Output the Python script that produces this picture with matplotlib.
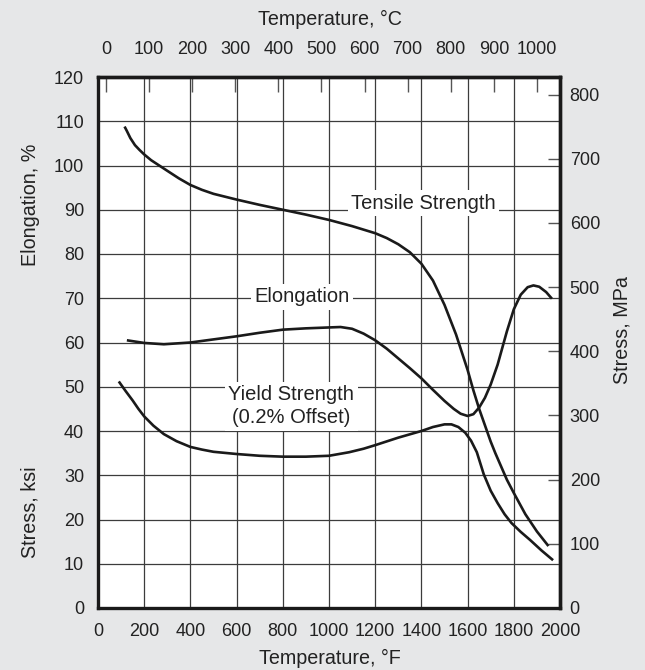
import matplotlib
matplotlib.use("Agg")
import matplotlib.pyplot as plt

plt.rcParams['font.family'] = ['Liberation Sans', 'DejaVu Sans']

# ---- data ----
tensile_F = [115, 125, 140, 160, 180, 200, 230, 265, 300, 350, 400, 450, 500, 600, 700, 800,
             900, 1000, 1100, 1200, 1250, 1300, 1350, 1400, 1450, 1500, 1550, 1575, 1600,
             1625, 1650, 1675, 1700, 1720, 1770, 1800, 1850, 1900, 1950]
tensile_ksi = [108.8, 107.8, 106.2, 104.6, 103.5, 102.5, 101.2, 100.0, 98.8, 97.1, 95.6, 94.5,
               93.6, 92.3, 91.1, 90.0, 88.9, 87.7, 86.3, 84.7, 83.6, 82.2, 80.4, 77.8, 74.0,
               68.5, 61.8, 57.8, 53.8, 49.2, 45.0, 41.3, 37.6, 35.0, 29.0, 26.0, 21.2, 17.3, 14.0]

elong_F = [125, 200, 285, 400, 500, 600, 700, 800, 900, 1000, 1050, 1100, 1150, 1200, 1250,
           1300, 1350, 1400, 1450, 1500, 1540, 1570, 1600, 1625, 1650, 1675, 1700, 1730, 1770,
           1800, 1830, 1860, 1885, 1910, 1940, 1965]
elong_pct = [60.5, 59.9, 59.6, 60.0, 60.7, 61.4, 62.2, 62.9, 63.2, 63.4, 63.5, 63.1, 62.0,
             60.5, 58.6, 56.4, 54.2, 51.9, 49.3, 46.8, 45.0, 43.9, 43.4, 43.8, 45.3, 47.5,
             50.5, 55.0, 62.5, 67.5, 70.8, 72.5, 72.9, 72.6, 71.4, 69.9]

yield_F = [90, 120, 150, 175, 200, 240, 285, 340, 400, 450, 500, 600, 700, 800, 900, 1000,
           1087, 1150, 1200, 1300, 1400, 1450, 1500, 1530, 1560, 1590, 1615, 1640, 1670, 1700,
           1730, 1760, 1790, 1830, 1870, 1920, 1970]
yield_ksi = [51.2, 49.0, 46.9, 45.0, 43.3, 41.2, 39.3, 37.7, 36.4, 35.8, 35.3, 34.8, 34.4, 34.2,
             34.2, 34.4, 35.2, 36.0, 36.8, 38.5, 40.0, 40.9, 41.5, 41.5, 40.9, 39.6, 37.8, 35.2,
             30.2, 26.5, 23.7, 21.2, 19.2, 17.2, 15.4, 13.0, 10.8]

x_ticks_F = [0, 200, 400, 600, 800, 1000, 1200, 1400, 1600, 1800, 2000]
y_ticks = [0, 10, 20, 30, 40, 50, 60, 70, 80, 90, 100, 110, 120]
mpa_ticks = [0, 100, 200, 300, 400, 500, 600, 700, 800]
c_ticks = [0, 100, 200, 300, 400, 500, 600, 700, 800, 900, 1000]

labels = ["Tensile Strength", "Elongation", "Yield Strength\n(0.2% Offset)"]

# ---- figure ----
BG = '#e6e7e8'
fig = plt.figure(figsize=(6.45, 6.7), dpi=100, facecolor=BG)
ax = fig.add_axes([98/645, 62/670, 462/645, 531/670])
ax.set_facecolor('white')

ax.set_xlim(0, 2000)
ax.set_ylim(0, 120)

for v in x_ticks_F[1:-1]:
    ax.axvline(v, color='#3c3c3c', lw=0.9, zorder=1)
for v in y_ticks[1:-1]:
    ax.axhline(v, color='#3c3c3c', lw=0.9, zorder=1)

lw = 1.9
for xs, ys in ((tensile_F, tensile_ksi), (elong_F, elong_pct), (yield_F, yield_ksi)):
    ax.plot(xs, ys, color='#1a1a1a', lw=lw, zorder=3, solid_capstyle='butt',
            solid_joinstyle='round')

fs_lab = 14.5
box = dict(facecolor='white', edgecolor='none', pad=2.5)
ax.text(1410, 91.5, labels[0], fontsize=fs_lab, ha='center', va='center', color='#222222',
        bbox=box, zorder=2)
ax.text(885, 70.3, labels[1], fontsize=fs_lab, ha='center', va='center', color='#222222',
        bbox=box, zorder=2)
ax.text(837, 45.6, labels[2], fontsize=fs_lab, ha='center', va='center', color='#222222',
        linespacing=1.25, multialignment='center', bbox=box, zorder=2)

ax.set_xticks(x_ticks_F)
ax.set_yticks(y_ticks)
ax.tick_params(axis='both', length=0, labelsize=13, colors='#222222')
ax.tick_params(axis='x', pad=11)
ax.tick_params(axis='y', pad=10)

for s in ax.spines.values():
    s.set_linewidth(2.4)
    s.set_color('#1a1a1a')

# right axis: MPa
sec_y = ax.secondary_yaxis('right', functions=(lambda v: v * 6.895, lambda v: v / 6.895))
sec_y.set_yticks(mpa_ticks)
sec_y.tick_params(direction='in', length=9, width=1.0, color='#555555', labelsize=13,
                  pad=7, labelcolor='#222222')
sec_y.spines['right'].set_linewidth(2.4)

# top axis: Celsius (as drawn in the reference)
def f2c(f):
    return (f - 35.0) / 1.865

def c2f(c):
    return c * 1.865 + 35.0

sec_x = ax.secondary_xaxis('top', functions=(f2c, c2f))
sec_x.set_xticks(c_ticks)
sec_x.tick_params(direction='in', length=11, width=1.0, color='#555555', labelsize=13,
                  pad=14, labelcolor='#222222')
sec_x.spines['top'].set_linewidth(2.4)

# axis titles
tc = '#222222'
fs_t = 14.2
fig.text(330/645, 1 - 658/670, 'Temperature, \u00b0F', ha='center', va='center', fontsize=fs_t, color=tc)
fig.text(330/645, 1 - 19/670, 'Temperature, \u00b0C', ha='center', va='center', fontsize=fs_t, color=tc)
fig.text(30/645, 1 - 205/670, 'Elongation, %', ha='center', va='center', rotation=90, fontsize=fs_t, color=tc)
fig.text(30/645, 1 - 512/670, 'Stress, ksi', ha='center', va='center', rotation=90, fontsize=fs_t, color=tc)
fig.text(622/645, 1 - 330/670, 'Stress, MPa', ha='center', va='center', rotation=90, fontsize=fs_t, color=tc)

fig.savefig('out.png', dpi=100, facecolor=BG)
